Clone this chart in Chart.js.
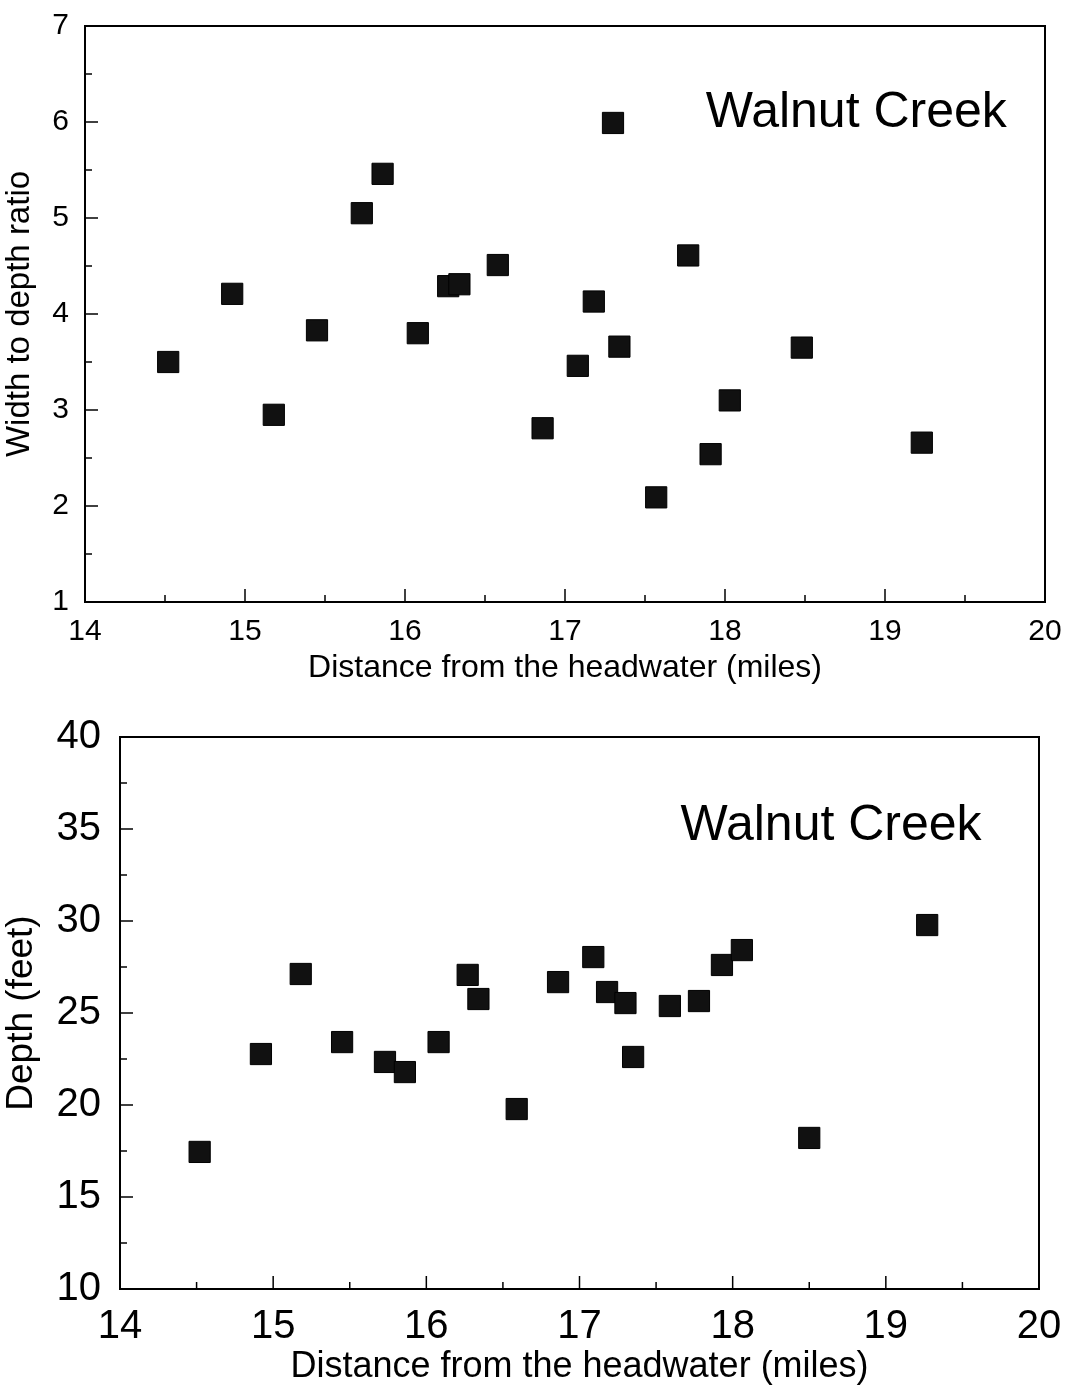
<!DOCTYPE html>
<html>
<head>
<meta charset="utf-8">
<script src="https://cdn.jsdelivr.net/npm/chart.js@4/dist/chart.umd.min.js"></script>
<style>
  html, body { margin: 0; padding: 0; background: #fff; }
  .box { position: absolute; left: 0; width: 1067px; }
  #box1 { top: 0; height: 700px; }
  #box2 { top: 700px; height: 691px; }
</style>
</head>
<body>
<div class="box" id="box1"><canvas id="ratioChart"></canvas></div>
<div class="box" id="box2"><canvas id="depthChart"></canvas></div>
<script>
// Walnut Creek - distance from the headwater (miles)
const ratioMiles = [14.52, 14.92, 15.18, 15.45, 15.73, 15.86, 16.08, 16.27, 16.34, 16.58, 16.86,
  17.08, 17.18, 17.30, 17.34, 17.57, 17.77, 17.91, 18.03, 18.48, 19.23];
const ratioValues = [3.50, 4.21, 2.95, 3.83, 5.05, 5.46, 3.80, 4.29, 4.31, 4.51, 2.81,
  3.46, 4.13, 5.99, 3.66, 2.09, 4.61, 2.54, 3.10, 3.65, 2.66];

const depthMiles = [14.52, 14.92, 15.18, 15.45, 15.73, 15.86, 16.08, 16.27, 16.34, 16.59, 16.86,
  17.09, 17.18, 17.30, 17.35, 17.59, 17.78, 17.93, 18.06, 18.50, 19.27];
const depthValues = [17.45, 22.77, 27.12, 23.42, 22.34, 21.79, 23.42, 27.07, 25.76, 19.78, 26.68,
  28.04, 26.14, 25.54, 22.61, 25.38, 25.65, 27.61, 28.42, 18.21, 29.78];

const FONT = "'Liberation Sans', Arial, sans-serif";

// frame round the plot area + inward major/minor ticks
const frameTicks = {
  id: 'frameTicks',
  beforeDatasetsDraw(chart, args, opts) {
    const ctx = chart.ctx;
    const a = chart.chartArea;
    const xs = chart.scales.x, ys = chart.scales.y;
    ctx.save();
    ctx.strokeStyle = '#000';
    ctx.lineWidth = 2;
    ctx.strokeRect(a.left, a.top, a.right - a.left, a.bottom - a.top);
    ctx.lineWidth = 1.5;
    const doTicks = (scale, horiz) => {
      const vals = scale.ticks.map(t => t.value);
      for (let i = 0; i < vals.length; i++) {
        const list = [[vals[i], 13]];
        if (i < vals.length - 1) list.push([(vals[i] + vals[i + 1]) / 2, 7]);
        list.forEach(([v, len]) => {
          const p = scale.getPixelForValue(v);
          ctx.beginPath();
          if (horiz) { ctx.moveTo(p, a.bottom); ctx.lineTo(p, a.bottom - len); }
          else { ctx.moveTo(a.left, p); ctx.lineTo(a.left + len, p); }
          ctx.stroke();
        });
      }
    };
    doTicks(xs, true);
    doTicks(ys, false);
    ctx.restore();
  },
  afterDatasetsDraw(chart, args, opts) {
    if (!opts.label) return;
    const ctx = chart.ctx;
    ctx.save();
    ctx.fillStyle = '#000';
    ctx.font = opts.size + 'px ' + FONT;
    ctx.textBaseline = 'middle';
    ctx.textAlign = 'left';
    ctx.fillText(opts.label, chart.scales.x.getPixelForValue(opts.x), chart.scales.y.getPixelForValue(opts.y));
    ctx.restore();
  }
};

function makeChart(id, cfg) {
  return new Chart(document.getElementById(id), {
    type: 'scatter',
    data: {
      datasets: [{
        data: cfg.xs.map((x, i) => ({ x: x, y: cfg.ys[i] })),
        pointStyle: 'rect',
        pointRadius: 15,
        pointHoverRadius: 15,
        backgroundColor: '#111',
        borderColor: '#000',
        borderWidth: 1
      }]
    },
    options: {
      responsive: true,
      maintainAspectRatio: false,
      animation: false,
      layout: { padding: cfg.padding },
      plugins: {
        legend: { display: false },
        tooltip: { enabled: false },
        frameTicks: cfg.note
      },
      scales: {
        x: {
          type: 'linear',
          min: 14, max: 20,
          grid: { display: false, drawTicks: false },
          border: { display: false },
          ticks: { stepSize: 1, color: '#000', padding: cfg.xPad, font: { family: FONT, size: cfg.tickSize } },
          title: {
            display: true, text: 'Distance from the headwater (miles)', color: '#000',
            font: { family: FONT, size: cfg.xTitleSize }, padding: cfg.xTitlePad
          },
          afterFit: s => { s.height = cfg.xHeight; s.paddingLeft = 0; s.paddingRight = 0; }
        },
        y: {
          type: 'linear',
          min: cfg.yMin, max: cfg.yMax,
          grid: { display: false, drawTicks: false },
          border: { display: false },
          ticks: { stepSize: cfg.yStep, color: '#000', padding: cfg.yPad, font: { family: FONT, size: cfg.tickSize } },
          title: {
            display: true, text: cfg.yTitle, color: '#000',
            font: { family: FONT, size: cfg.yTitleSize }, padding: cfg.yTitlePad
          },
          afterFit: s => { s.width = cfg.yWidth; s.paddingTop = 0; s.paddingBottom = 0; }
        }
      }
    },
    plugins: [frameTicks]
  });
}

makeChart('ratioChart', {
  xs: ratioMiles, ys: ratioValues,
  yMin: 1, yMax: 7, yStep: 1,
  yTitle: 'Width to depth ratio',
  padding: { top: 26, right: 22, left: 0, bottom: 0 },
  xHeight: 98, yWidth: 85,
  tickSize: 30, xTitleSize: 32, yTitleSize: 33,
  xPad: 12, yPad: 16,
  xTitlePad: { top: 0, bottom: 13 }, yTitlePad: { top: 0, bottom: 5 },
  note: { label: 'Walnut Creek', x: 17.88, y: 6.09, size: 50 }
});

makeChart('depthChart', {
  xs: depthMiles, ys: depthValues,
  yMin: 10, yMax: 40, yStep: 5,
  yTitle: 'Depth (feet)',
  padding: { top: 37, right: 28, left: 0, bottom: 0 },
  xHeight: 102, yWidth: 120,
  tickSize: 40, xTitleSize: 36, yTitleSize: 37,
  xPad: 14, yPad: 19,
  xTitlePad: { top: 0, bottom: 2 }, yTitlePad: { top: 0, bottom: 2 },
  note: { label: 'Walnut Creek', x: 17.66, y: 35.16, size: 50 }
});
</script>
</body>
</html>
